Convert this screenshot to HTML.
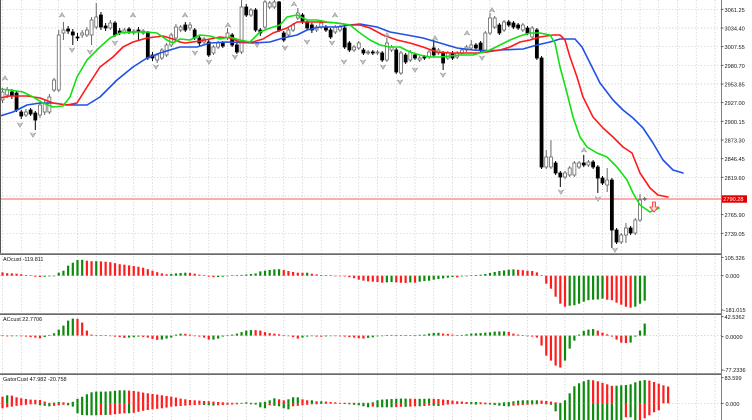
<!DOCTYPE html>
<html><head><meta charset="utf-8">
<style>
html,body{margin:0;padding:0;background:#fff;overflow:hidden;}
svg{display:block;}
text{font-family:"Liberation Sans",sans-serif;}
</style></head><body>
<svg id="c" width="752" height="420" viewBox="0 0 752 420" xmlns="http://www.w3.org/2000/svg">
<rect width="752" height="420" fill="#fff"/>
<g id="grid"></g>
<g id="hist"></g>
<line x1="0" y1="199" x2="721.5" y2="199" stroke="#ff5a5a" stroke-width="1"/>
<g id="cand"></g>
<g id="lines" fill="none" stroke-width="1.6" stroke-linejoin="round" stroke-linecap="round"></g>
<g id="frac"></g>
<polygon points="652.5,202 655.5,202 655.5,207 658.2,207 654,212 649.8,207 652.5,207" fill="#ffd6d6" stroke="#ff2a2a" stroke-width="0.8"/>
<line x1="0.5" y1="0" x2="0.5" y2="253" stroke="#555" stroke-width="1"/>
<rect x="0" y="253.3" width="721.5" height="1.7" fill="#6a6a6a"/>
<rect x="0" y="313.3" width="721.5" height="1.7" fill="#6a6a6a"/>
<rect x="0" y="373.3" width="721.5" height="1.7" fill="#6a6a6a"/>
<line x1="721.5" y1="0" x2="721.5" y2="420" stroke="#808080" stroke-width="1"/>
<g id="ticks" stroke="#333" stroke-width="0.8"></g>
<g font-size="5.6" fill="#111">
<text x="724.5" y="11.8">3061.25</text>
<text x="724.5" y="30.5">3034.40</text>
<text x="724.5" y="49.2">3007.55</text>
<text x="724.5" y="67.8">2980.70</text>
<text x="724.5" y="86.5">2953.85</text>
<text x="724.5" y="105.2">2927.00</text>
<text x="724.5" y="123.8">2900.15</text>
<text x="724.5" y="142.5">2873.30</text>
<text x="724.5" y="161.2">2846.45</text>
<text x="724.5" y="179.8">2819.60</text>
<text x="724.5" y="217.2">2765.90</text>
<text x="724.5" y="235.8">2739.05</text>
<text x="724.5" y="259.8">105.326</text>
<text x="725.5" y="278.2">0.000</text>
<text x="723.5" y="312">-181.015</text>
<text x="724.5" y="319.2">42.5362</text>
<text x="725.5" y="339.2">0.0000</text>
<text x="723.5" y="372">-77.2336</text>
<text x="724.5" y="380.2">83.599</text>
<text x="725.5" y="405.8">0.000</text>
</g>
<rect x="722" y="195.3" width="25" height="7.4" fill="#e00000"/>
<text x="723.3" y="201.2" font-size="5.6" fill="#fff">2790.28</text>
<g font-size="5.5" fill="#111">
<text x="3" y="261">AOcust -119.811</text>
<text x="3" y="321">ACcust 22.7706</text>
<text x="3" y="381">GatorCust 47.982 -20.758</text>
</g>
</svg>
<script>
(function(){
const NS="http://www.w3.org/2000/svg";
function add(g,tag,a){const e=document.createElementNS(NS,tag);for(const k in a)e.setAttribute(k,a[k]);document.getElementById(g).appendChild(e);return e;}
const X=i=>2.5+i*4.6875;
const GR="#0b8a0b", RD="#ff1c1c";
// grid
for(let k=0;k<40;k++){const x=2.5+18.75*k; if(x>720)break;
 add('grid','line',{x1:x,x2:x,y1:0,y2:420,stroke:"#c4c4c4","stroke-width":0.7,"stroke-dasharray":"1.2,2"});}
const hy=[9.3,28,46.7,65.3,84,102.7,121.3,140,158.7,177.3,196,214.7,233.3];
hy.forEach(y=>add('grid','line',{x1:0,x2:721,y1:y,y2:y,stroke:"#c4c4c4","stroke-width":0.7,"stroke-dasharray":"1.2,2"}));
[275.7,335.6,403.3].forEach(y=>add('grid','line',{x1:0,x2:721,y1:y,y2:y,stroke:"#c4c4c4","stroke-width":0.7,"stroke-dasharray":"1.2,2"}));
// ticks
hy.concat([257.3,275.7,310,316.7,336.7,370,377.7,403.3]).forEach(y=>{ if(Math.abs(y-196)<1)return; add('ticks','line',{x1:721.5,x2:723.5,y1:y,y2:y});});
// AO
const AO=[3.3,2.5,2.3,2,1.5,0.7,0.2,-1,-1.3,-1,
-0.7,-0.3,3,5,10,13,15.7,15.9,15,14.5,
14.5,14.3,14,13.5,12.5,11.5,11,10.3,9.7,9,
8,6.5,5,3.5,2.3,1.5,1.8,2.3,2.7,3,
2.8,2,1,0.3,-1,-1.5,-1.3,-1,-0.5,0.2,
0.5,0.8,1.2,1.7,2.3,4.3,5,5.7,6.3,6.5,
5.7,4.7,3.7,3,2.9,3,2,1.3,0.7,0.3,
0.1,-0.1,-0.3,-0.7,-1.5,-2.5,-4,-5,-5.7,-6,
-6.3,-7,-6.7,-6.3,-6.7,-7,-7.2,-6.7,-7,-6,
-5.3,-5,-4,-3.3,-2.7,-2,-1.3,-1.7,-0.7,-0.3,
0.3,0.7,1,1.7,2.7,3.7,4.7,5.3,6,6.3,
5.9,5.5,5,4.7,3.3,0.3,-8,-13,-21,-28,
-31,-30,-29.5,-28,-26,-24.5,-24,-23.8,-23,-24,
-24.5,-27,-29,-31,-32,-31,-28,-25];
const AC=[0.5,-0.8,-0.7,-0.5,-0.7,-1,-1.5,-2,-2.7,-1.5,
0.7,2.3,6,10,15,17,16.8,13,5,1,
0.2,0.1,0,-0.3,-1,-1.5,-2.3,-2,-1.7,-1,
-1.3,-2,-3.3,-4.3,-4,-3,-2,1,2,1.8,
1,-0.3,-1,-2,-4,-4,-3,-1,0.3,1,
2,3.5,5,5.5,5.4,5,3.5,2.5,2,1.3,
0.3,-0.3,-1.5,-3,-2,-1,-0.5,-1,-1.1,-0.8,
-0.5,-0.6,-0.7,-1,-1.5,-2,-2.7,-3,-2.3,-1.7,
-0.7,-0.3,0,0.3,0.4,0.3,0.5,0.4,0.6,0.8,
1,2,2.7,2.8,2,1.7,1,0.5,0.7,1.3,
2,2.3,2.5,3,3.3,4,4.1,4.2,3.7,2,
1,0.3,-0.7,-1,-2,-10,-20,-25,-30,-32,
-25,-13,-5,1,4.7,6,6.5,5,3,1.3,
-1,-4,-7,-7.5,-7,-1,5,12];
function histo(arr,z,dir){arr.forEach((v,i)=>{const up=i==0?false:v>=arr[i-1];const c=up?GR:RD;
 const h=Math.max(Math.abs(v),0.6);const y=(dir*v>=0)?z-h:z; const yy=dir>0?(v>=0?z-h:z):z;
 add('hist','rect',{x:X(i)-1.1,y:(v>=0?z-h:z),width:2.2,height:h,fill:c});});}
histo(AO,275.7,1);histo(AC,335.6,1);
// Gator
const U=[6.7,8,7.7,6,5,4.3,3.7,3.5,3.3,1.7,
0.5,0.7,1.3,1,0.5,1.5,4.5,6.5,9,11,
11.7,11.7,11.7,12,12.5,13,13,12.7,12.3,11.7,
10.7,10,9.3,8.7,8,7.3,6.7,5.7,4.7,4,
3.3,3,2.7,2.3,2,1.7,1.3,1,0.7,0.5,
0.5,0.5,1,0.3,0.3,1,1.5,3,5,4,
3,4,6,6,4,3,3,2,2,1.7,
1.3,1,0.5,0.3,0.2,0.1,0.1,0.3,0.5,1,
3,3.7,4,4.3,4.5,4.7,4.7,4.6,4.5,4.5,
4.5,4.7,4.5,4.3,3.8,3.3,2.7,2,1.7,1.3,
1.3,1.3,1,0.7,0.3,0.1,0.3,1,1.3,2,
2.7,3,3,3,3,2.7,2.3,1.7,1,0.5,
3,10,17,20,22,23.5,23,22,20.5,19,
17.5,17.6,18,18.3,19,21,22.5,23.2,22.7,21.3,
19.7,18,16.7];
const L=[5,4,3.3,2.5,2,1.5,1,1,2,2.5,
3,2.5,2,1.5,2,3.3,10,11.7,12,12,
12,11.7,11.7,11.5,11,10.5,10,10,9.5,8.5,
7.5,6.7,6,5.5,5,4.3,3.3,3,2.7,2.3,
2,1.7,1.5,1.7,2,2.3,2,1.7,1.5,1.2,
1,0.5,0.5,1,1.3,4,5,2,2.5,3,
5,6,3,2.5,2,1.5,1,1,0.7,0.5,
0.3,0.3,0.5,0.7,1,1.5,2,3,4,3.3,
4,4,4,4,3.8,3.5,3.5,3.3,3,3,
2.7,2.3,2.5,2.7,2,1.3,1,0.8,0.7,0.7,
1,1.3,1,1,1.3,1.7,2.3,2.7,3,2.3,
2,1.7,1.5,1.2,1,0.7,1,1.5,8,17,
20,20,20,20,20,20,20,20,20,20,
20,20,20,14,14,20,18,15,12,9,7];
const gz=403.3;
U.forEach((v,i)=>{const c=(i>0&&v>=U[i-1])?GR:RD;const h=Math.max(v,0.5);add('hist','rect',{x:X(i)-1.1,y:gz-h,width:2.2,height:h,fill:c});});
L.forEach((v,i)=>{const c=(i>0&&v>=L[i-1])?GR:RD;const h=Math.max(v,0.5);add('hist','rect',{x:X(i)-1.1,y:gz,width:2.2,height:h,fill:c});});
// candles [top,bottom,white,hi,lo]
const C=[[92,100,1,88,103],[90,95,1,87,98],[92,96,0,89,99],[93,110,0,91,112],[112,116,0,110,119],[112,115,1,109,117],[110,114,0,108,116],[113,120,0,111,130],[105,115,1,102,118],[103,112,1,100,115],
[97,112,1,94,114],[80,90,1,78,92],[35,90,1,30,92],[30,33,1,22,40],[29,31,0,26,34],[32,35,0,29,45],[37,38,0,33,41],[33,35,1,30,38],[30,35,1,27,37],[20,35,1,17,45],
[17,27,1,3,29],[15,27,0,12,30],[26,28,0,23,31],[23,28,1,20,30],[23,35,0,21,37],[31,33,0,28,35],[30,32,1,28,34],[29,31,0,27,34],[31,33,1,29,35],[30,32,0,27,40],
[31,33,1,29,35],[33,58,0,31,60],[55,58,0,52,61],[55,60,1,53,63],[50,58,1,48,60],[45,55,1,43,57],[35,45,1,33,47],[27,38,1,24,40],[27,30,1,25,32],[25,30,0,22,32],
[25,28,1,22,31],[30,38,0,28,40],[38,43,0,36,46],[39,42,1,37,45],[42,55,0,40,57],[47,53,1,45,55],[43,47,1,41,49],[43,46,0,41,48],[33,38,1,28,40],[35,45,0,33,47],
[45,52,0,43,54],[7,52,1,0,54],[7,15,0,4,17],[10,15,1,8,17],[10,30,0,8,32],[30,33,0,28,36],[2,27,1,0,29],[3,7,1,1,9],[2,7,1,0,9],[2,30,0,1,32],
[33,40,0,31,42],[30,35,1,28,37],[25,30,1,23,32],[13,18,1,8,20],[15,22,0,13,24],[22,28,0,20,30],[25,30,0,23,33],[27,30,1,25,32],[23,27,1,21,29],[27,30,0,25,32],
[30,37,0,28,39],[27,32,1,25,34],[27,30,1,25,32],[28,47,0,26,49],[43,50,0,41,52],[47,50,1,45,52],[43,48,1,41,50],[50,53,0,48,55],[52,53,1,50,55],[52,53,0,50,55],
[52,53,1,50,55],[53,60,0,51,62],[43,60,1,38,62],[47,50,1,45,52],[50,72,0,48,74],[53,73,1,51,75],[55,62,0,53,64],[52,60,1,50,62],[55,58,0,53,60],[58,60,1,56,62],
[57,58,0,55,60],[52,57,1,50,59],[48,55,0,40,57],[50,53,1,48,55],[53,63,0,51,70],[53,58,1,51,60],[53,58,0,51,60],[53,57,1,51,59],[50,53,1,48,55],[47,50,1,45,52],
[45,48,1,40,50],[45,48,0,43,50],[43,50,0,41,52],[33,50,1,31,52],[18,33,1,13,35],[18,27,1,16,29],[25,33,0,23,35],[22,30,1,20,32],[22,25,0,20,27],[23,27,0,21,29],
[25,28,0,23,30],[25,30,1,23,32],[28,33,0,26,35],[28,37,1,26,39],[30,58,0,28,60],[58,167,0,56,169],[157,167,1,150,169],[157,167,1,140,169],[163,173,0,161,175],[173,177,0,171,187],
[173,177,1,171,179],[168,175,1,166,177],[163,175,1,161,177],[163,167,1,161,169],[163,165,0,155,167],[162,165,1,160,167],[162,167,0,160,169],[167,178,0,165,193],[178,183,0,176,185],[180,185,1,168,192],
[180,230,0,178,248],[230,242,0,228,244],[235,242,1,233,244],[228,235,1,223,243],[228,233,0,226,235],[220,233,1,218,235],[200,220,1,194,222],[198.6,199.4,1,197,201]];
C.forEach((c,i)=>{const x=X(i);const col=c[2]?'#666':'#000';
 add('cand','line',{x1:x,x2:x,y1:c[3],y2:c[4],stroke:col,'stroke-width':1});
 add('cand','rect',{x:x-1.5,y:c[0],width:3,height:Math.max(c[1]-c[0],0.8),fill:c[2]?'#fff':'#000',stroke:col,'stroke-width':0.8});});
// alligator lines
const G=[[0,89],[10,90],[23,92],[33,97],[43,103],[53,107],[63,106],[70,97],[77,77],[87,60],[100,47],[110,38],[120,33],[133,32],[147,32],[157,33],[167,40],[173,43],[180,39],[190,40],[200,35],[210,36],[220,39],[230,37],[240,40],[250,42],[260,32],[270,28],[280,25],[287,17],[297,15],[307,20],[317,20],[327,22],[337,23],[350,25],[360,33],[370,40],[380,45],[390,47],[400,47],[410,52],[420,55],[430,57],[440,57],[450,56],[460,55],[473,55],[480,53],[490,50],[500,45],[510,40],[520,36],[530,33],[540,33],[550,35],[555,43],[560,67],[567,93],[573,117],[580,137],[587,147],[597,153],[607,157],[617,167],[627,180],[633,193],[640,205],[650,212],[659,208]];
const R=[[0,98],[10,96],[27,96],[40,98],[53,103],[67,105],[77,103],[87,87],[100,67],[113,57],[123,47],[133,42],[147,38],[163,36],[173,39],[180,42],[185,43],[200,41],[220,37],[230,38],[240,42],[253,42],[263,39],[273,33],[287,28],[297,22],[310,22],[323,22],[337,23],[350,25],[360,25],[370,28],[383,35],[397,40],[410,43],[423,47],[437,52],[450,53],[463,53],[477,53],[487,52],[500,50],[510,47],[520,42],[530,40],[540,37],[553,35],[560,35],[565,40],[570,57],[577,77],[583,97],[593,117],[603,128],[613,137],[623,147],[632,153],[640,173],[650,188],[658,195],[668,197]];
const B=[[0,116],[13,112],[27,105],[40,103],[53,103],[67,105],[87,105],[100,97],[117,80],[133,67],[147,58],[160,53],[170,50],[180,47],[197,47],[210,43],[227,42],[253,43],[270,42],[283,38],[297,35],[307,30],[320,27],[337,27],[350,25],[360,24],[377,27],[390,32],[407,35],[423,38],[440,43],[457,48],[473,50],[487,51],[500,50],[523,49],[537,45],[550,42],[560,39],[575,39],[582,47],[590,63],[600,83],[613,100],[623,110],[633,118],[643,128],[653,143],[663,160],[673,170],[683,173]];
function pl(p,col){add('lines','polyline',{points:p.map(a=>a.join(',')).join(' '),stroke:col});}
pl(B,'#2050e6');pl(R,'#ff1a1a');pl(G,'#12e012');
// fractals
const FU=[[5,78],[62,15],[133,15],[185,15],[228,25],[294,4],[335,15],[387,35],[435,38],[467,33],[492,10],[584,150]];
const FD=[[20,125],[33,135],[72,50],[90,52],[115,43],[156,67],[195,53],[209,62],[235,57],[257,45],[285,48],[307,42],[332,43],[344,62],[363,62],[383,67],[400,82],[415,70],[443,75],[482,58],[561,192],[598,199],[615,250]];
FU.forEach(([x,y])=>add('frac','polygon',{points:`${x-2.8},${y+2.2} ${x},${y-2.5} ${x+2.8},${y+2.2} ${x},${y+0.8}`,fill:'#c4c4c4',stroke:'#8a8a8a','stroke-width':0.5}));
FD.forEach(([x,y])=>add('frac','polygon',{points:`${x-2.8},${y-2.2} ${x},${y+2.5} ${x+2.8},${y-2.2} ${x},${y-0.8}`,fill:'#c4c4c4',stroke:'#8a8a8a','stroke-width':0.5}));
})();
</script>
</body></html>
